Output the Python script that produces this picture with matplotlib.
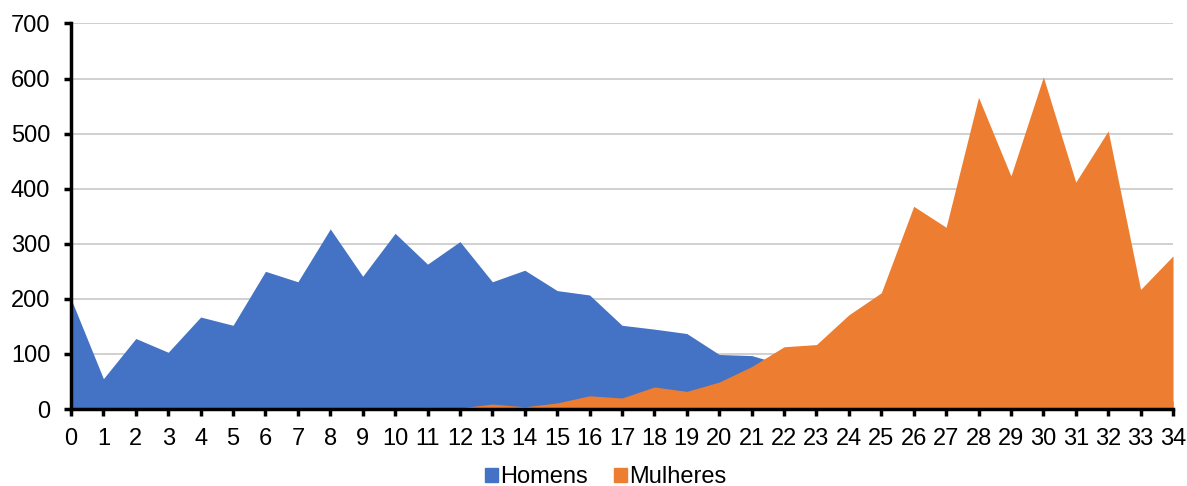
import matplotlib
matplotlib.use("Agg")
import matplotlib.pyplot as plt
import numpy as np

plt.rcParams['font.family'] = ['Liberation Sans', 'DejaVu Sans']

x_values = list(range(0, 35))
homens = [200, 55, 128, 103, 167, 152, 250, 231, 327, 241,
          319, 263, 304, 231, 252, 215, 207, 152, 145, 137,
          99, 97, 80, 65, 55, 45, 40, 35, 30, 28,
          25, 22, 20, 18, 15]
mulheres = [0, 0, 0, 0, 0, 0, 0, 0, 1, 1,
            2, 3, 2, 9, 4, 11, 24, 20, 40, 32,
            49, 77, 113, 117, 171, 211, 368, 330, 566, 423,
            603, 412, 505, 217, 278]
series_names = ["Homens", "Mulheres"]
colors = ["#4472C4", "#ED7D31"]
y_ticks = [0, 100, 200, 300, 400, 500, 600, 700]

fig = plt.figure(figsize=(11.87, 4.86), dpi=100)
ax = fig.add_axes([71/1187, 1-409/486, (1173-71)/1187, (409-23.5)/486])

ax.fill_between(x_values, homens, 0, color=colors[0], linewidth=0, label=series_names[0], zorder=2)
ax.fill_between(x_values, mulheres, 0, color=colors[1], linewidth=0, label=series_names[1], zorder=3)

ax.set_xlim(0, 34)
ax.set_ylim(0, 700)
ax.set_xticks(x_values)
ax.set_xticklabels([str(v) for v in x_values])
ax.set_yticks(y_ticks)
ax.grid(axis='y', color='#C8C8C8', linewidth=1.2, zorder=0)
ax.set_axisbelow(True)

for s in ['top', 'right']:
    ax.spines[s].set_visible(False)
ax.spines['left'].set_linewidth(2.5)
ax.spines['bottom'].set_linewidth(2.5)
ax.spines['left'].set_zorder(5)
ax.spines['bottom'].set_zorder(5)
ax.tick_params(axis='both', direction='out', length=5, width=2.5, labelsize=17, colors='black')
ax.tick_params(axis='x', pad=9)
ax.tick_params(axis='y', pad=10)

handles = [plt.Rectangle((0, 0), 1, 1, color=c) for c in colors]
fig.legend(handles, series_names, loc='center', bbox_to_anchor=(0.51, 9/486), ncol=2,
           frameon=False, fontsize=17, handlelength=0.55, handleheight=0.55, handletextpad=0.1,
           columnspacing=1.1, borderpad=0)

fig.savefig("out.png", dpi=100)
